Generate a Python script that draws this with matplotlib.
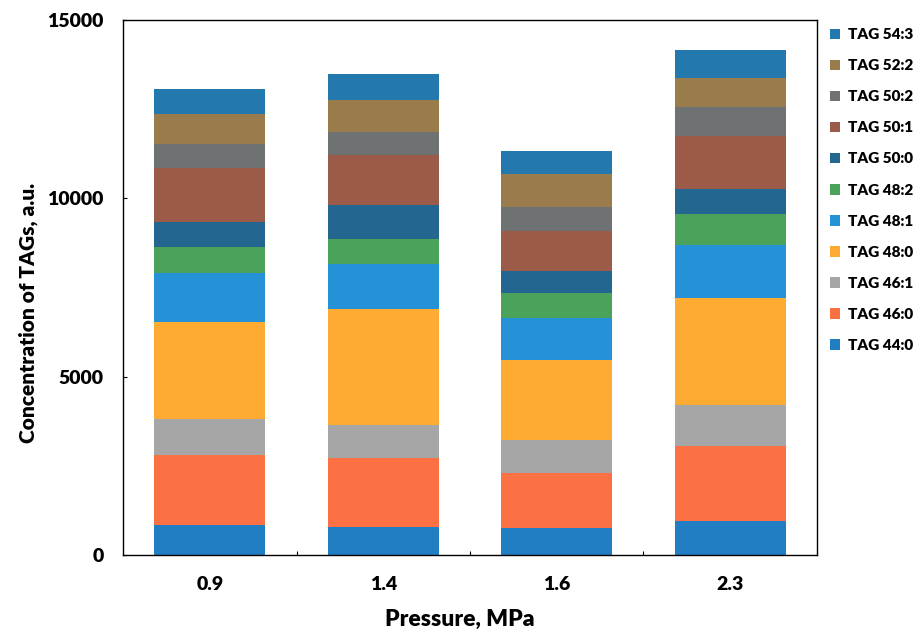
import matplotlib.pyplot as plt
import numpy as np

# pressures (categories) and TAG concentrations
pressures = ['0.9', '1.4', '1.6', '2.3']
tags = ['TAG 44:0', 'TAG 46:0', 'TAG 46:1', 'TAG 48:0', 'TAG 48:1', 'TAG 48:2',
        'TAG 50:0', 'TAG 50:1', 'TAG 50:2', 'TAG 52:2', 'TAG 54:3']
tag44_0 = [844, 797, 768, 957]
tag46_0 = [1971, 1925, 1531, 2111]
tag46_1 = [985, 918, 938, 1134]
tag48_0 = [2730, 3256, 2232, 2995]
tag48_1 = [1379, 1266, 1173, 1480]
tag48_2 = [732, 704, 695, 892]
tag50_0 = [703, 937, 620, 704]
tag50_1 = [1492, 1408, 1125, 1472]
tag50_2 = [675, 658, 676, 828]
tag52_2 = [845, 890, 937, 796]
tag54_3 = [712, 731, 619, 780]
series = [tag44_0, tag46_0, tag46_1, tag48_0, tag48_1, tag48_2,
          tag50_0, tag50_1, tag50_2, tag52_2, tag54_3]
colors = ['#217ec3', '#fc7144', '#a6a6a6', '#fdab32', '#2591d6', '#4ba35b',
          '#23668f', '#9c5a48', '#6e7272', '#9a7b4b', '#2379ad']

plt.rcParams['font.family'] = ['Lato', 'DejaVu Sans']
plt.rcParams['font.weight'] = 'heavy'

fig = plt.figure(figsize=(9.16, 6.36), dpi=100)
ax = fig.add_axes([0.1343, 0.1274, 0.7576, 0.8412])

x = np.arange(len(pressures))
bottom = np.zeros(len(pressures))
handles = []
for vals, name, col in zip(series, tags, colors):
    b = ax.bar(x, vals, 0.64, bottom=bottom, color=col, label=name)
    handles.append(b)
    bottom += np.array(vals)

ax.set_xlim(-0.5, 3.5)
ax.set_ylim(0, 15000)
ax.set_yticks([0, 5000, 10000, 15000])
ax.set_xticks(x)
ax.set_xticklabels(pressures)
ax.set_xticks([0.5, 1.5, 2.5], minor=True)
ax.tick_params(axis='x', which='major', length=0, pad=15, labelsize=14)
ax.tick_params(axis='x', which='minor', direction='in', length=3, width=0.8)
ax.tick_params(axis='y', direction='in', length=3, width=0.8, pad=14, labelsize=14)
for s in ax.spines.values():
    s.set_linewidth(1.0)

ax.set_xlabel('Pressure, MPa', fontsize=16.5, fontweight='heavy')
ax.set_ylabel('Concentration of TAGs, a.u.', fontsize=15, fontweight='heavy')
ax.xaxis.set_label_coords(0.486, -0.100)
ax.yaxis.set_label_coords(-0.123, 0.452)

fig.legend(handles[::-1], tags[::-1], loc='upper left', bbox_to_anchor=(0.899, 0.965),
           frameon=False, fontsize=11, handlelength=0.7, handleheight=0.7,
           handletextpad=0.5, labelspacing=1.18, borderaxespad=0)

plt.savefig('out.png', dpi=100)
